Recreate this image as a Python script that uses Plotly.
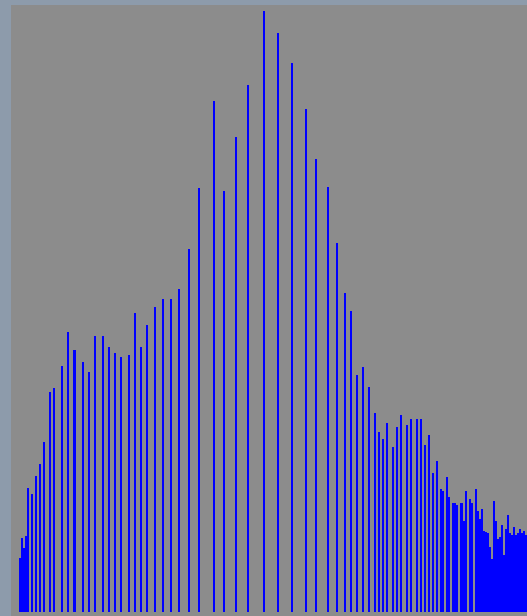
import plotly.graph_objects as go

# Histogram of an 8-bit image (bins 0..255); only non-empty bins listed
bins = [4, 5, 6, 7, 8, 10, 12, 14, 16, 19, 21, 25, 28, 31, 35, 38, 41, 45, 48, 51,
        54, 58, 61, 64, 67, 71, 75, 79, 83, 88, 93, 100, 105, 111, 117, 125, 132, 139,
        146, 151, 157, 161, 165, 168, 171, 174, 177, 180, 182, 184, 186, 189, 191, 193,
        196, 198, 201, 203, 205, 207, 209, 211, 213, 214, 216, 217, 219, 220, 221, 223,
        224, 225, 227, 228, 230, 231, 232, 233, 234, 235, 236, 237, 238, 239, 240, 241,
        242, 243, 244, 245, 246, 247, 248, 249, 250, 251, 252, 253, 254, 255]

counts = [54, 74, 64, 76, 124, 118, 136, 148, 170, 220, 224, 246, 280, 262, 250, 240,
          276, 276, 265, 259, 255, 257, 299, 265, 287, 305, 313, 313, 323, 363, 424,
          511, 421, 475, 527, 601, 579, 549, 503, 453, 425, 369, 319, 301, 237, 245,
          225, 199, 180, 173, 189, 165, 185, 197, 187, 193, 193, 193, 167, 177, 139,
          151, 123, 121, 135, 115, 109, 109, 107, 109, 91, 121, 113, 109, 123, 101,
          93, 103, 81, 80, 79, 65, 53, 111, 91, 73, 75, 87, 57, 83, 97, 79, 77, 85,
          77, 79, 83, 79, 81, 77]

PAPER = "#8d9bab"

fig = go.Figure(
    go.Bar(
        x=bins,
        y=counts,
        width=1,
        marker=dict(color="#0000ff", line=dict(width=0)),
    )
)

fig.update_layout(
    width=527,
    height=616,
    margin=dict(l=11, r=0, t=5, b=0),
    paper_bgcolor=PAPER,
    plot_bgcolor="#8c8c8c",
    bargap=0,
    showlegend=False,
)
fig.update_xaxes(range=[-0.5, 255.5], visible=False, showgrid=False, zeroline=False)
fig.update_yaxes(range=[-4, 607], visible=False, showgrid=False, zeroline=False)

fig.write_html(
    "out.html",
    config={"displayModeBar": False},
    post_script=(
        "document.body.style.margin='0';"
        "document.body.style.overflow='hidden';"
        "document.body.style.background='" + PAPER + "';"
    ),
)
